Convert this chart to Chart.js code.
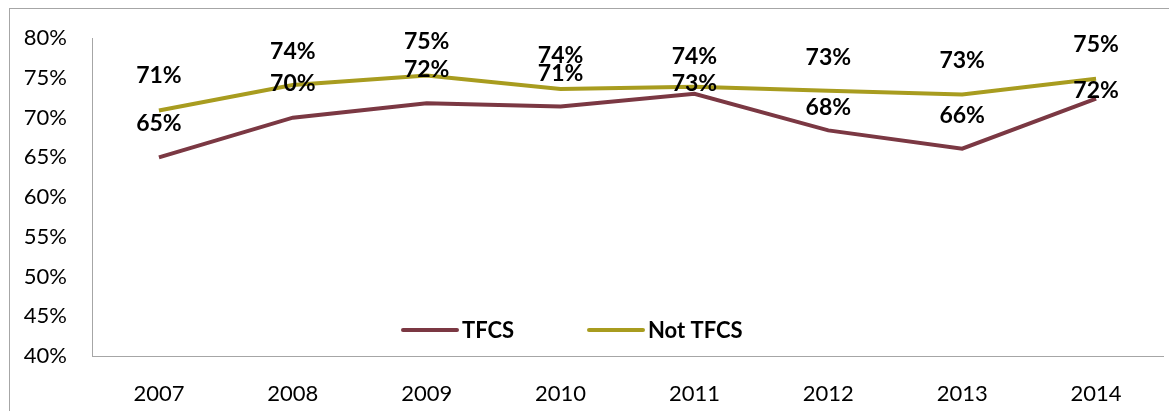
<!DOCTYPE html>
<html>
<head>
<meta charset="utf-8">
<script src="https://cdn.jsdelivr.net/npm/chart.js@4/dist/chart.umd.min.js"></script>
<style>
  html, body { margin: 0; padding: 0; background: #fff; }
  #wrap { width: 1169px; height: 411px; position: relative; }
</style>
</head>
<body>
<div id="wrap"><canvas id="c" width="1169" height="411"></canvas></div>
<script>
const categories = ['2007', '2008', '2009', '2010', '2011', '2012', '2013', '2014'];
const tfcsValues = [65.0, 70.0, 71.8, 71.4, 73.0, 68.4, 66.1, 72.4];
const notTfcsValues = [70.9, 74.1, 75.3, 73.6, 73.9, 73.4, 72.9, 74.9];
const seriesNames = ['TFCS', 'Not TFCS'];

const FONT = 'Lato, "Open Sans", "Liberation Sans", sans-serif';

// vertical offsets of the value labels relative to their points (style)
const labelOffsets = [
  [-34, -34, -34, -33, -10, -23, -33, -8],
  [-35, -33, -34, -33, -30, -33, -34, -34]
];

const frame = {
  id: 'frame',
  beforeDraw(chart) {
    const ctx = chart.ctx;
    ctx.save();
    ctx.fillStyle = '#ffffff';
    ctx.fillRect(0, 0, chart.width, chart.height);
    ctx.strokeStyle = '#a6a6a6';
    ctx.lineWidth = 1;
    ctx.strokeRect(9.5, 8.5, chart.width + 20, chart.height + 20);
    ctx.restore();
  }
};

const valueLabels = {
  id: 'valueLabels',
  afterDatasetsDraw(chart) {
    const ctx = chart.ctx;
    ctx.save();
    ctx.font = 'bold 23px ' + FONT;
    ctx.fillStyle = '#000000';
    ctx.textAlign = 'center';
    ctx.textBaseline = 'middle';
    chart.data.datasets.forEach((ds, di) => {
      const meta = chart.getDatasetMeta(di);
      meta.data.forEach((pt, i) => {
        ctx.fillText(Math.round(ds.data[i]) + '%', pt.x, pt.y + labelOffsets[di][i]);
      });
    });
    ctx.restore();
  }
};

const innerLegend = {
  id: 'innerLegend',
  afterDraw(chart) {
    const ctx = chart.ctx;
    const starts = [403, 589];
    const y = 330;
    ctx.save();
    ctx.font = 'bold 22px ' + FONT;
    ctx.textBaseline = 'middle';
    ctx.textAlign = 'left';
    chart.data.datasets.forEach((ds, di) => {
      const x = starts[di];
      ctx.strokeStyle = ds.borderColor;
      ctx.lineWidth = 4;
      ctx.lineCap = 'round';
      ctx.beginPath();
      ctx.moveTo(x, y);
      ctx.lineTo(x + 54, y);
      ctx.stroke();
      ctx.fillStyle = '#000000';
      ctx.fillText(ds.label, x + 59, y + 1);
    });
    ctx.restore();
  }
};

new Chart(document.getElementById('c'), {
  type: 'line',
  data: {
    labels: categories,
    datasets: [
      {
        label: seriesNames[0],
        data: tfcsValues,
        borderColor: '#7b3843',
        backgroundColor: '#7b3843',
        borderWidth: 4,
        pointRadius: 0,
        tension: 0,
        fill: false
      },
      {
        label: seriesNames[1],
        data: notTfcsValues,
        borderColor: '#a89c1f',
        backgroundColor: '#a89c1f',
        borderWidth: 4,
        pointRadius: 0,
        tension: 0,
        fill: false
      }
    ]
  },
  options: {
    responsive: false,
    animation: false,
    devicePixelRatio: 1,
    layout: { padding: { left: 0, right: 6, top: 38, bottom: 0 } },
    plugins: {
      legend: { display: false },
      tooltip: { enabled: false }
    },
    scales: {
      x: {
        type: 'category',
        offset: true,
        grid: { display: true, drawOnChartArea: false, drawTicks: false },
        border: { display: true, color: '#a6a6a6', width: 1 },
        ticks: {
          font: { family: FONT, size: 22 },
          color: '#000000',
          padding: 25,
          maxRotation: 0
        },
        afterFit(scale) { scale.height = 55; }
      },
      y: {
        min: 40,
        max: 80,
        grid: { display: true, drawOnChartArea: false, drawTicks: false },
        border: { display: true, color: '#a6a6a6', width: 1 },
        ticks: {
          stepSize: 5,
          font: { family: FONT, size: 22 },
          color: '#000000',
          padding: 25,
          callback: (v) => v + '%'
        },
        afterFit(scale) { scale.width = 92; }
      }
    }
  },
  plugins: [frame, valueLabels, innerLegend]
});
</script>
</body>
</html>
